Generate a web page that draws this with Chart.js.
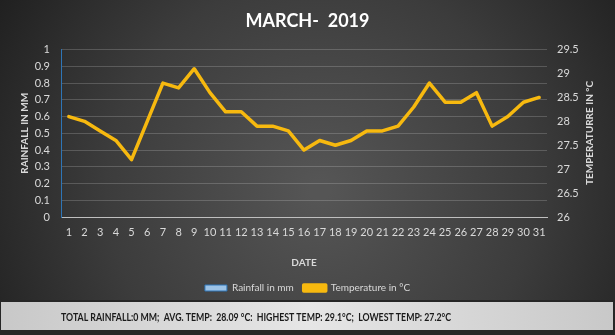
<!DOCTYPE html>
<html>
<head>
<meta charset="utf-8">
<script src="https://cdn.jsdelivr.net/npm/chart.js@4.4.1/dist/chart.umd.min.js"></script>
<style>
  html, body { margin: 0; padding: 0; background: #262626; }
  #wrap { width: 615px; height: 335px; position: relative; }
</style>
</head>
<body>
<div id="wrap"><canvas id="rainChart" width="615" height="335"></canvas></div>
<script>
const days = ['1','2','3','4','5','6','7','8','9','10','11','12','13','14','15','16',
  '17','18','19','20','21','22','23','24','25','26','27','28','29','30','31'];

const rainfall = [0,0,0,0,0,0,0,0,0,0,0,0,0,0,0,0,0,0,0,0,0,0,0,0,0,0,0,0,0,0,0];

const temperature = [28.1, 28.0, 27.8, 27.6, 27.2, 28.0, 28.8, 28.7, 29.1, 28.6,
  28.2, 28.2, 27.9, 27.9, 27.8, 27.4, 27.6, 27.5, 27.6, 27.8,
  27.8, 27.9, 28.3, 28.8, 28.4, 28.4, 28.6, 27.9, 28.1, 28.4, 28.5];

const summaryText = 'TOTAL RAINFALL:0 MM;  AVG. TEMP:  28.09 °C:  HIGHEST TEMP: 29.1°C;  LOWEST TEMP: 27.2°C';

const FONT = 'Lato, "Open Sans", sans-serif';

function plain(v) {
  return String(Number(v.toFixed(2)));
}

// dark radial background + footer band
const backdrop = {
  id: 'backdrop',
  beforeDraw(chart) {
    const ctx = chart.ctx;
    const w = chart.width, h = chart.height;
    ctx.save();
    const g = ctx.createRadialGradient(320, 190, 10, 320, 190, 380);
    g.addColorStop(0, '#555555');
    g.addColorStop(0.55, '#3c3c3c');
    g.addColorStop(1, '#1f1f1f');
    ctx.fillStyle = g;
    ctx.fillRect(0, 0, w, h);
    ctx.restore();
  },
  afterDraw(chart) {
    const ctx = chart.ctx;
    ctx.save();
    // right axis title, reading bottom to top
    ctx.translate(590, 133);
    ctx.rotate(-Math.PI / 2);
    ctx.fillStyle = '#d9d9d9';
    ctx.font = 'bold 10px ' + FONT;
    ctx.textAlign = 'center';
    ctx.textBaseline = 'middle';
    ctx.fillText('TEMPERATURRE IN °C', 0, 0);
    ctx.restore();

    ctx.save();
    ctx.fillStyle = '#262626';
    ctx.fillRect(0, 300, 615, 35);
    const fg = ctx.createLinearGradient(0, 0, 615, 0);
    fg.addColorStop(0, '#c8c8c8');
    fg.addColorStop(0.5, '#e6e6e6');
    fg.addColorStop(1, '#c8c8c8');
    ctx.fillStyle = fg;
    ctx.fillRect(1, 302, 612, 28);
    ctx.fillStyle = '#1a1a1a';
    ctx.font = 'bold 12px ' + FONT;
    ctx.textAlign = 'center';
    ctx.textBaseline = 'middle';
    ctx.translate(256, 317);
    ctx.scale(0.73, 1);
    ctx.fillText(summaryText, 0, 0);
    ctx.restore();
  }
};

new Chart(document.getElementById('rainChart'), {
  data: {
    labels: days,
    datasets: [
      {
        type: 'bar',
        label: 'Rainfall in mm',
        data: rainfall,
        yAxisID: 'y',
        backgroundColor: '#9dc3e6',
        borderColor: '#2e75b6',
        borderWidth: 1
      },
      {
        type: 'line',
        label: 'Temperature in °C',
        data: temperature,
        yAxisID: 'y1',
        borderColor: '#f7b90f',
        backgroundColor: '#f7b90f',
        borderWidth: 3.5,
        borderJoinStyle: 'round',
        borderCapStyle: 'round',
        pointRadius: 0,
        tension: 0
      }
    ]
  },
  options: {
    responsive: false,
    animation: false,
    layout: { padding: { left: 0, right: 0, top: 0, bottom: 32 } },
    plugins: {
      title: {
        display: true,
        text: 'MARCH-  2019',
        color: '#ffffff',
        font: { family: FONT, size: 18, weight: 'bold' },
        padding: { top: 10, bottom: 18 }
      },
      legend: {
        position: 'bottom',
        labels: {
          color: '#d9d9d9',
          font: { family: FONT, size: 10 },
          boxWidth: 22,
          boxHeight: 6,
          padding: 10
        }
      },
      tooltip: { enabled: false }
    },
    scales: {
      x: {
        offset: true,
        grid: { display: false, drawTicks: false },
        border: { color: '#bfbfbf' },
        ticks: { color: '#d9d9d9', font: { family: FONT, size: 11 }, padding: 9, maxRotation: 0, autoSkip: false },
        title: { display: true, text: 'DATE', color: '#d9d9d9', font: { family: FONT, size: 10, weight: 'bold' }, padding: { top: 14 } },
        afterFit(s) { s.height = 56; }
      },
      y: {
        position: 'left',
        min: 0,
        max: 1,
        ticks: { stepSize: 0.1, autoSkip: false, color: '#d9d9d9', font: { family: FONT, size: 11 }, padding: 11, callback: plain },
        grid: { color: 'rgba(255,255,255,0.18)', drawTicks: false },
        border: { color: '#2e75b6', width: 1 },
        title: { display: true, text: 'RAINFALL IN MM', color: '#d9d9d9', font: { family: FONT, size: 10, weight: 'bold' }, padding: { top: 19, bottom: 0 } },
        afterFit(s) { s.width = 61; }
      },
      y1: {
        position: 'right',
        min: 26,
        max: 29.5,
        ticks: { stepSize: 0.5, autoSkip: false, color: '#d9d9d9', font: { family: FONT, size: 11 }, padding: 10, callback: plain },
        grid: { drawOnChartArea: false, drawTicks: false },
        border: { display: false },
        afterFit(s) { s.width = 68; }
      }
    }
  },
  plugins: [backdrop]
});
</script>
</body>
</html>
